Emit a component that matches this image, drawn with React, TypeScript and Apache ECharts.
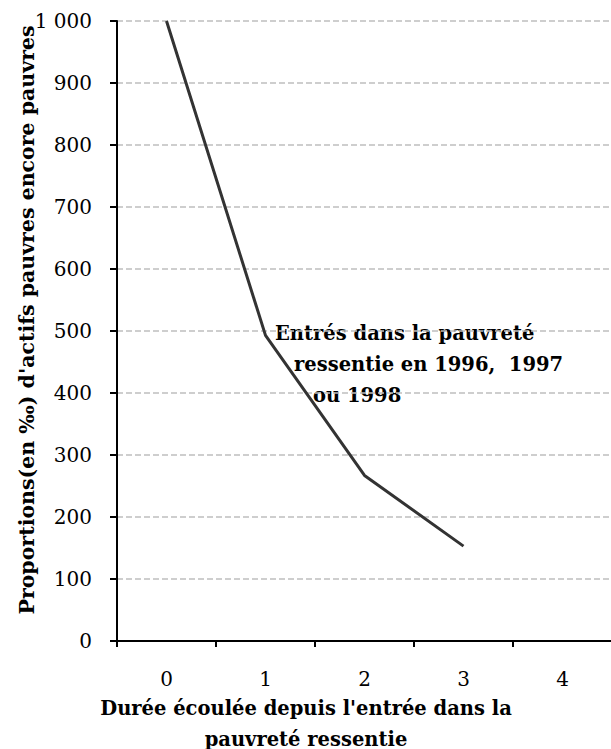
import React, { useEffect, useRef } from "react";
import * as echarts from "echarts";

const categories = ["0", "1", "2", "3", "4"];
const values = [1000, 493, 267, 153, null];
const yTicks = [0, 100, 200, 300, 400, 500, 600, 700, 800, 900, 1000];
const annotationLines = ["Entrés dans la pauvreté", "ressentie en 1996,  1997", "ou 1998"];
const xTitleLines = ["Durée écoulée depuis l'entrée dans la", "pauvreté ressentie"];
const yTitle = "Proportions(en ‰) d'actifs pauvres encore pauvres";

const FONT = "DejaVu Serif";

export default function App() {
  const ref = useRef<HTMLDivElement>(null);
  useEffect(() => {
    if (!ref.current) return;
    const chart = echarts.init(ref.current, null, { renderer: "svg" });
    chart.setOption({
      animation: false,
      backgroundColor: "#ffffff",
      textStyle: { fontFamily: FONT },
      grid: { left: 117, right: -1, top: 21, bottom: 108, containLabel: false, outerBoundsMode: "none" },
      xAxis: {
        type: "category",
        data: categories,
        boundaryGap: true,
        axisLine: { lineStyle: { color: "#000", width: 2 } },
        axisTick: { show: true, length: 6, inside: false, lineStyle: { color: "#000", width: 2 } },
        axisLabel: { fontFamily: FONT, fontSize: 20, color: "#000", margin: 28 },
        splitLine: { show: false },
      },
      yAxis: {
        type: "value",
        min: 0,
        max: 1000,
        interval: 100,
        axisLine: { show: true, lineStyle: { color: "#000", width: 2 } },
        axisTick: { show: true, length: 7, inside: false, lineStyle: { color: "#000", width: 2 } },
        axisLabel: {
          fontFamily: FONT,
          fontSize: 20,
          color: "#000",
          margin: 25,
          formatter: (v: number) => (yTicks.includes(v) && v >= 1000 ? "1 000" : String(v)),
        },
        splitLine: { show: true, lineStyle: { color: "#bfbfbf", type: [6, 3], width: 1.5 } },
      },
      series: [
        {
          type: "line",
          data: values,
          symbol: "none",
          lineStyle: { color: "#333333", width: 3 },
          connectNulls: false,
        },
      ],
      graphic: [
        {
          type: "text",
          x: 27,
          y: 320,
          rotation: Math.PI / 2,
          style: {
            text: yTitle,
            fontFamily: FONT,
            fontSize: 20.5,
            fontWeight: "bold",
            fill: "#000",
            align: "center",
            verticalAlign: "middle",
          },
        },
        ...annotationLines.map((t, i) => ({
          type: "text",
          x: [275, 294, 313][i],
          y: 333 + i * 31,
          style: {
            text: t,
            fontFamily: FONT,
            fontSize: 19.5,
            fontWeight: "bold",
            fill: "#000",
            verticalAlign: "middle",
          },
        })),
        ...xTitleLines.map((t, i) => ({
          type: "text",
          x: 306,
          y: 708 + i * 31,
          style: {
            text: t,
            fontFamily: FONT,
            fontSize: 19.5,
            fontWeight: "bold",
            fill: "#000",
            align: "center",
            verticalAlign: "middle",
          },
        })),
      ],
    });
    return () => chart.dispose();
  }, []);
  return (
    <div
      ref={ref}
      style={{ position: "fixed", left: 0, top: 0, width: 611, height: 749, background: "#fff" }}
    />
  );
}
